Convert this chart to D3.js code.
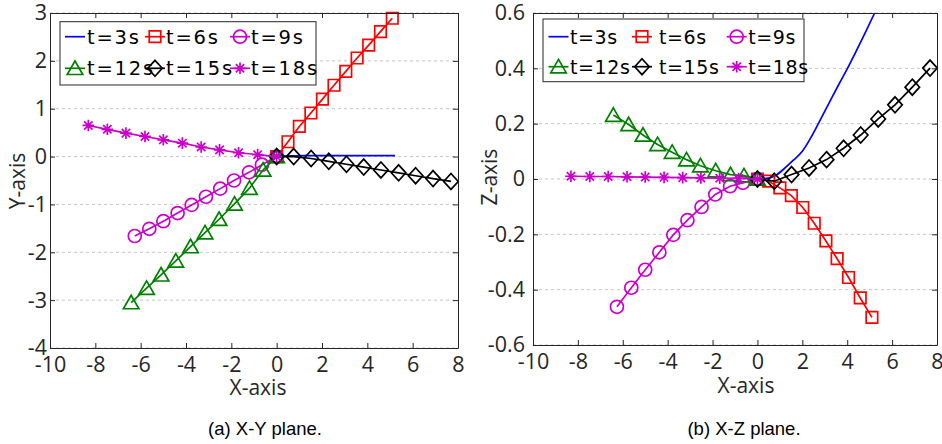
<!DOCTYPE html>
<html>
<head>
<meta charset="utf-8">
<script src="https://cdn.jsdelivr.net/npm/d3@7"></script>
<style>
  body { margin: 0; background: #fff; }
  svg { display: block; }
  text { font-family: "Open Sans", "Noto Sans", sans-serif; fill: #262626; }
</style>
</head>
<body>
<svg id="chart" width="942" height="444"></svg>
<script>
// ---- data ----
const seriesNames = ["t=3s", "t=6s", "t=9s", "t=12s", "t=15s", "t=18s"];
const xTicks = [-10, -8, -6, -4, -2, 0, 2, 4, 6, 8];
const yTicksXY = [-4, -3, -2, -1, 0, 1, 2, 3];
const zTicksXZ = [-0.6, -0.4, -0.2, 0, 0.2, 0.4, 0.6];

// t=3s (line only)
const x3 = [0, 0.4, 0.8, 1.2, 1.6, 2.0, 2.4, 2.8, 3.2, 3.6, 4.0, 4.4, 4.8, 5.22];
const y3 = [0, 0.01, 0.015, 0.02, 0.02, 0.02, 0.02, 0.02, 0.02, 0.02, 0.02, 0.02, 0.02, 0.02];
const z3 = [0, 0.002, 0.012, 0.038, 0.068, 0.1, 0.152, 0.214, 0.276, 0.338, 0.398, 0.462, 0.528, 0.6];
// t=6s
const x6 = [0, 0.5, 1.0, 1.51, 2.02, 2.53, 3.05, 3.55, 4.06, 4.58, 5.1];
const y6 = [0, 0.31, 0.63, 0.91, 1.2, 1.49, 1.78, 2.06, 2.33, 2.61, 2.89];
const z6 = [0, -0.008, -0.032, -0.06, -0.103, -0.16, -0.224, -0.288, -0.356, -0.43, -0.5];
// t=9s
const x9 = [0, -0.65, -1.22, -1.88, -2.49, -3.12, -3.75, -4.37, -5.0, -5.62, -6.26];
const y9 = [0, -0.17, -0.33, -0.5, -0.67, -0.84, -1.01, -1.18, -1.35, -1.51, -1.66];
const z9 = [0, -0.014, -0.026, -0.056, -0.101, -0.149, -0.202, -0.265, -0.328, -0.393, -0.462];
// t=12s
const x12 = [0, -0.6, -1.2, -1.86, -2.54, -3.16, -3.8, -4.45, -5.1, -5.74, -6.42];
const y12 = [0, -0.28, -0.66, -0.99, -1.31, -1.59, -1.88, -2.18, -2.47, -2.75, -3.05];
const z12 = [0, 0.012, 0.016, 0.03, 0.048, 0.07, 0.097, 0.125, 0.159, 0.197, 0.231];
// t=15s
const x15 = [0, 0.75, 1.52, 2.3, 3.08, 3.84, 4.6, 5.38, 6.13, 6.9, 7.69];
const y15 = [0, 0, -0.04, -0.1, -0.16, -0.22, -0.28, -0.34, -0.4, -0.46, -0.52];
const z15 = [0, -0.008, 0.016, 0.04, 0.07, 0.111, 0.159, 0.217, 0.268, 0.332, 0.401];
// t=18s
const x18 = [0, -0.84, -1.68, -2.52, -3.33, -4.16, -5.0, -5.81, -6.65, -7.47, -8.31];
const y18 = [0, 0.04, 0.08, 0.14, 0.2, 0.28, 0.35, 0.42, 0.49, 0.57, 0.65];
const z18 = [0, 0.002, 0.003, 0.004, 0.005, 0.006, 0.007, 0.008, 0.009, 0.009, 0.01];

// ---- styles ----
const marker = {
  none: () => null,
  square: s => `M${-s/2},${-s/2}h${s}v${s}h${-s}Z`,
  circle: r => `M${r},0A${r},${r} 0 1 1 ${-r},0A${r},${r} 0 1 1 ${r},0Z`,
  triangle: w => `M0,${-w*0.47}L${w/2},${w*0.4}L${-w/2},${w*0.4}Z`,
  diamond: w => `M0,${-w*0.55}L${w/2},0L0,${w*0.55}L${-w/2},0Z`,
  star: r => { const a = r * 0.72; return `M${-r},0H${r}M0,${-r}V${r}M${-a},${-a}L${a},${a}M${-a},${a}L${a},${-a}`; }
};

const series = [
  { name: seriesNames[0], xs: x3,  ys: y3,  zs: z3,  color: "#0000ff", mk: "none", size: 0, smooth: true },
  { name: seriesNames[1], xs: x6,  ys: y6,  zs: z6,  color: "#ff0000", mk: "square", size: 11.5 },
  { name: seriesNames[2], xs: x9,  ys: y9,  zs: z9,  color: "#cc00cc", mk: "circle", size: 6.5 },
  { name: seriesNames[3], xs: x12, ys: y12, zs: z12, color: "#008000", mk: "triangle", size: 15.5 },
  { name: seriesNames[4], xs: x15, ys: y15, zs: z15, color: "#000000", mk: "diamond", size: 14.5 },
  { name: seriesNames[5], xs: x18, ys: y18, zs: z18, color: "#cc00cc", mk: "star", size: 5.8 }
];

const panels = [
  { key: "ys", left: 50, top: 13, right: 458, bottom: 348, yDomain: [-4, 3], yTicks: yTicksXY,
    yLabel: "Y-axis", yLabelPos: [25, 181], xLabelPos: [258, 395], yPad: 3,
    caption: "(a) X-Y plane.", captionPos: [265, 435],
    legend: { x: 60, y: 21.7, w: 256, h: 63.3, rows: [36.7, 68.3], marks: [75, 155, 240], texts: [87, 166, 251], fs: 19.5, ls: 1.8 } },
  { key: "zs", left: 533, top: 13, right: 937, bottom: 345, yDomain: [-0.6, 0.6], yTicks: zTicksXZ,
    yLabel: "Z-axis", yLabelPos: [497, 177], xLabelPos: [746, 393], yPad: 8,
    caption: "(b) X-Z plane.", captionPos: [744, 435],
    legend: { x: 543, y: 19, w: 261, h: 62.7, rows: [36.7, 66.7], marks: [558.5, 642, 736.7], texts: [570, 659, 748.3], fs: 19, ls: 0.6 } }
];

const svg = d3.select("#chart");

panels.forEach(p => {
  const x = d3.scaleLinear().domain([-10, 8]).range([p.left, p.right]);
  const y = d3.scaleLinear().domain(p.yDomain).range([p.bottom, p.top]);
  const g = svg.append("g");

  // horizontal dashed grid
  g.selectAll(".grid").data(p.yTicks).enter().append("line")
    .attr("x1", p.left).attr("x2", p.right)
    .attr("y1", d => y(d)).attr("y2", d => y(d))
    .attr("stroke", "#c4c4c4").attr("stroke-width", 1).attr("stroke-dasharray", "3,3");

  // series
  series.forEach(s => {
    const pts = s.xs.map((v, i) => [v, s[p.key][i]]);
    const line = d3.line().x(d => x(d[0])).y(d => y(d[1]));
    if (s.smooth) line.curve(d3.curveMonotoneX);
    g.append("path")
      .attr("d", line(pts))
      .attr("fill", "none").attr("stroke", s.color).attr("stroke-width", 1.7);
    if (s.mk !== "none") {
      g.selectAll(null).data(pts).enter().append("path")
        .attr("transform", d => `translate(${x(d[0])},${y(d[1])})`)
        .attr("d", marker[s.mk](s.size))
        .attr("fill", "none").attr("stroke", s.color).attr("stroke-width", 1.7);
    }
  });

  // axes (box with inward ticks)
  const fmt = d => String(d);
  const ax = [
    g.append("g").attr("transform", `translate(0,${p.bottom})`)
      .call(d3.axisBottom(x).tickValues(xTicks).tickFormat(fmt).tickSizeInner(-5).tickSizeOuter(0).tickPadding(8.5)),
    g.append("g").attr("transform", `translate(0,${p.top})`)
      .call(d3.axisTop(x).tickValues(xTicks).tickFormat("").tickSizeInner(-5).tickSizeOuter(0)),
    g.append("g").attr("transform", `translate(${p.left},0)`)
      .call(d3.axisLeft(y).tickValues(p.yTicks).tickFormat(fmt).tickSizeInner(-5).tickSizeOuter(0).tickPadding(p.yPad)),
    g.append("g").attr("transform", `translate(${p.right},0)`)
      .call(d3.axisRight(y).tickValues(p.yTicks).tickFormat("").tickSizeInner(-5).tickSizeOuter(0))
  ];
  ax.forEach(a => {
    a.select(".domain").attr("stroke", "#262626").attr("stroke-width", 1);
    a.selectAll(".tick line").attr("stroke", "#262626");
    a.selectAll(".tick text").attr("fill", "#262626")
      .style("font-family", '"Open Sans", sans-serif').style("font-size", "21.5px");
  });

  // axis labels
  g.append("text").attr("x", p.xLabelPos[0]).attr("y", p.xLabelPos[1])
    .attr("text-anchor", "middle").style("font-size", "21px").text("X-axis");
  g.append("text")
    .attr("transform", `translate(${p.yLabelPos[0]},${p.yLabelPos[1]}) rotate(-90)`)
    .attr("text-anchor", "middle").style("font-size", "21px").text(p.yLabel);

  // caption
  g.append("text").attr("x", p.captionPos[0]).attr("y", p.captionPos[1])
    .attr("text-anchor", "middle")
    .style("font-family", '"Liberation Sans", Arial, sans-serif').style("font-size", "18.5px")
    .style("fill", "#000").text(p.caption);

  // legend
  const L = p.legend;
  const lg = g.append("g");
  lg.append("rect").attr("x", L.x).attr("y", L.y).attr("width", L.w).attr("height", L.h)
    .attr("fill", "#fff").attr("stroke", "#262626").attr("stroke-width", 1);
  series.forEach((s, i) => {
    const row = Math.floor(i / 3), col = i % 3;
    const cx = L.marks[col], cy = L.rows[row];
    lg.append("line").attr("x1", cx - 10).attr("x2", cx + 10).attr("y1", cy).attr("y2", cy)
      .attr("stroke", s.color).attr("stroke-width", 1.7);
    if (s.mk !== "none") {
      lg.append("path").attr("transform", `translate(${cx},${cy})`)
        .attr("d", marker[s.mk](s.size))
        .attr("fill", "none").attr("stroke", s.color).attr("stroke-width", 1.7);
    }
    lg.append("text").attr("x", L.texts[col]).attr("y", cy).attr("dy", "0.36em")
      .style("font-family", '"DejaVu Sans", sans-serif')
      .style("font-size", L.fs + "px").style("letter-spacing", L.ls + "px")
      .style("fill", "#000").text(s.name);
  });
});
</script>
</body>
</html>
